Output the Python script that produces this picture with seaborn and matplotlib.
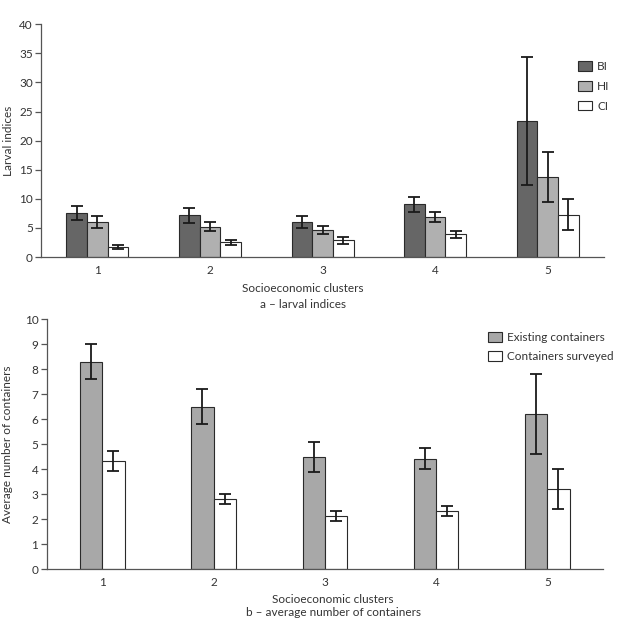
import seaborn as sns
import matplotlib.pyplot as plt
import numpy as np
import pandas as pd

clusters = ['1', '2', '3', '4', '5']

# panel a - larval indices
larval_names = ['BI', 'HI', 'CI']
bi_vals = [7.5, 7.15, 6.05, 9.1, 23.3]
bi_err = [1.2, 1.25, 1.05, 1.3, 11.0]
hi_vals = [6.05, 5.25, 4.65, 6.85, 13.7]
hi_err = [1.05, 0.75, 0.65, 0.85, 4.3]
ci_vals = [1.8, 2.55, 2.9, 3.9, 7.3]
ci_err = [0.35, 0.45, 0.6, 0.63, 2.7]

# panel b - average number of containers
cont_names = ['Existing containers', 'Containers surveyed']
exist_vals = [8.3, 6.5, 4.5, 4.42, 6.2]
exist_err = [0.7, 0.7, 0.6, 0.42, 1.6]
surv_vals = [4.31, 2.82, 2.11, 2.31, 3.2]
surv_err = [0.4, 0.2, 0.2, 0.2, 0.8]

sns.set_style('white')
plt.rcParams['font.family'] = ['Lato', 'DejaVu Sans']

txt = '#333333'
edge = '#2a2a2a'
fs = 8.5


def long_df(names, vals):
    rows = []
    for n, v in zip(names, vals):
        for c, y in zip(clusters, v):
            rows.append({'cluster': c, 'series': n, 'value': y})
    return pd.DataFrame(rows)


def style_axis(ax):
    sns.despine(ax=ax)
    for s in ['left', 'bottom']:
        ax.spines[s].set_color('#555555')
        ax.spines[s].set_linewidth(0.9)
    ax.set_xlim(-0.5, 4.5)
    ax.set_xticks(np.arange(-0.5, 5, 1), minor=True)
    ax.tick_params(axis='x', which='major', length=0, labelsize=fs, labelcolor=txt, pad=6)
    ax.tick_params(axis='x', which='minor', length=4, width=0.9, color='#555555', direction='out')
    ax.tick_params(axis='y', length=4, width=0.9, color='#555555', direction='out',
                   labelsize=fs, labelcolor=txt, left=True, pad=2)


def add_errors(ax, errs):
    for cont, err in zip(ax.containers, errs):
        xs = [b.get_x() + b.get_width() / 2 for b in cont]
        ys = [b.get_height() for b in cont]
        ax.errorbar(xs, ys, yerr=err, fmt='none', ecolor='#1a1a1a',
                    elinewidth=1.3, capsize=4, capthick=1.3, zorder=5)


fig = plt.figure(figsize=(6.17, 6.21), dpi=100)

# ---- panel a
ax1 = fig.add_axes([0.0665, 0.586, 0.9125, 0.375])
df1 = long_df(larval_names, [bi_vals, hi_vals, ci_vals])
sns.barplot(data=df1, x='cluster', y='value', hue='series', ax=ax1,
            palette=['#666666', '#b0b0b0', '#ffffff'], width=0.55,
            edgecolor=edge, linewidth=0.8, errorbar=None)
add_errors(ax1, [bi_err, hi_err, ci_err])
style_axis(ax1)
ax1.set_ylim(0, 40)
ax1.set_yticks(range(0, 41, 5))
ax1.set_ylabel('Larval indices', fontsize=fs, color=txt)
ax1.yaxis.set_label_coords(-0.048, 0.5)
ax1.set_xlabel('Socioeconomic clusters\na – larval indices', fontsize=fs,
               color=txt, linespacing=1.5)
ax1.xaxis.set_label_coords(0.465, -0.112, transform=ax1.transAxes)
ax1.xaxis.label.set_va('top')
ax1.legend(loc='upper left', bbox_to_anchor=(0.937, 0.902),
           bbox_transform=fig.transFigure, frameon=False, borderpad=0,
           borderaxespad=0, fontsize=fs, handlelength=1.15, handleheight=0.9,
           handletextpad=0.45, labelspacing=0.75, labelcolor=txt)

# ---- panel b
ax2 = fig.add_axes([0.0757, 0.0837, 0.9016, 0.4026])
df2 = long_df(cont_names, [exist_vals, surv_vals])
sns.barplot(data=df2, x='cluster', y='value', hue='series', ax=ax2,
            palette=['#a8a8a8', '#ffffff'], width=0.40,
            edgecolor=edge, linewidth=0.8, errorbar=None)
add_errors(ax2, [exist_err, surv_err])
style_axis(ax2)
ax2.set_ylim(0, 10)
ax2.set_yticks(range(0, 11))
ax2.set_ylabel('Average number of containers', fontsize=fs, color=txt)
ax2.yaxis.set_label_coords(-0.06, 0.5)
ax2.set_xlabel('Socioeconomic clusters\nb – average number of containers', fontsize=fs,
               color=txt, linespacing=1.2)
ax2.xaxis.set_label_coords(0.515, -0.1, transform=ax2.transAxes)
ax2.xaxis.label.set_va('top')
ax2.legend(loc='upper left', bbox_to_anchor=(0.791, 0.465),
           bbox_transform=fig.transFigure, frameon=False, borderpad=0,
           borderaxespad=0, fontsize=fs, handlelength=1.15, handleheight=0.9,
           handletextpad=0.45, labelspacing=0.65, labelcolor=txt)

fig.savefig('out.png', dpi=100)
